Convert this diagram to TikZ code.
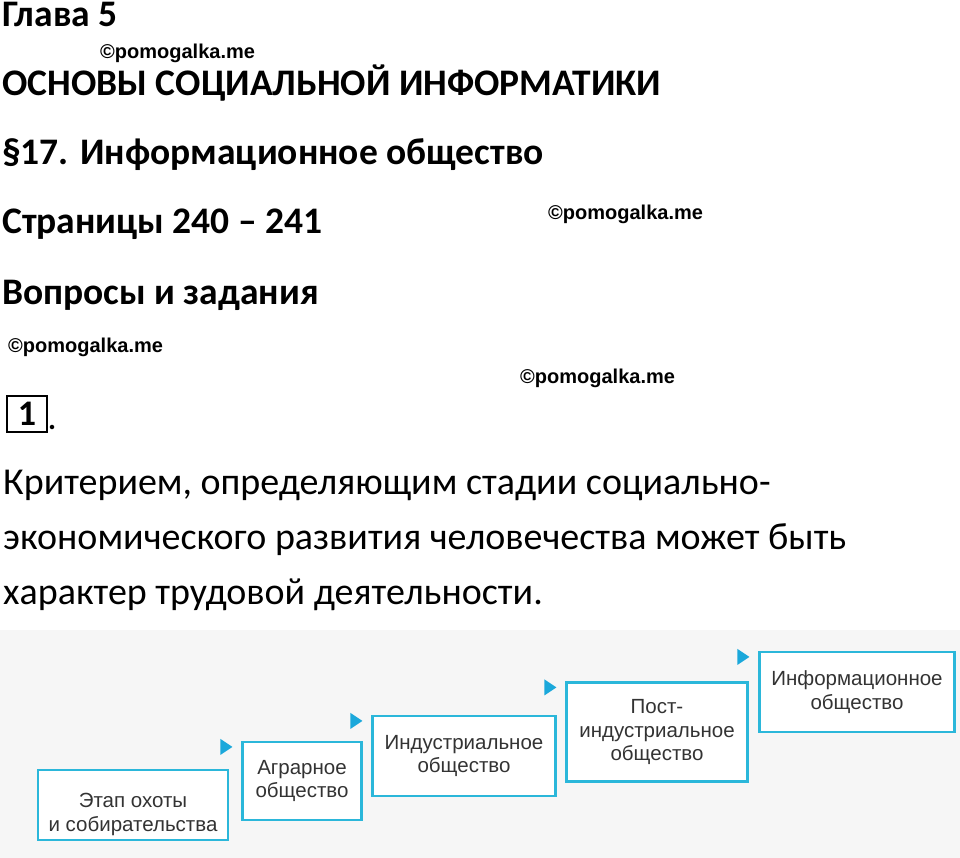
\documentclass[tikz,border=0pt]{standalone}
\usepackage{fontspec}
\setmainfont{Carlito}
\newfontfamily\boxfont{Liberation Sans}
\definecolor{frame}{HTML}{2BB7DA}
\definecolor{tri}{HTML}{1BA8DB}
\definecolor{bgpanel}{HTML}{F6F6F6}
\tikzset{
  stage/.style={draw=frame,line width=2.2pt,fill=white,align=center,
    font=\boxfont\fontsize{20.5}{23.5}\selectfont,text=black!80,inner sep=0pt},
  head/.style={anchor=base west,inner sep=0pt,font=\bfseries\fontsize{37.5}{40}\selectfont},
  stamp/.style={anchor=base west,inner sep=0pt,font=\boxfont\bfseries\fontsize{20}{22}\selectfont},
  body/.style={anchor=base west,inner sep=0pt,font=\fontsize{38}{42}\selectfont},
  pointer/.style={fill=tri,draw=none}
}
\begin{document}
\begin{tikzpicture}[x=1pt,y=-1pt]
\useasboundingbox (0,0) rectangle (960,858);
\fill[white] (0,0) rectangle (960,858);
\fill[bgpanel] (0,630) rectangle (960,858);
% headings
\node[head] (chap) at (2,27) {Глава 5};
\node[head] (part) at (2,96) {ОСНОВЫ СОЦИАЛЬНОЙ ИНФОРМАТИКИ};
\node[head] (sect) at (2,165) {§17. Информационное общество};
\node[head] (page) at (2,234) {Страницы 240 – 241};
\node[head] (task) at (2,305) {Вопросы и задания};
% watermarks
\node[stamp] (wm1) at (100,59) {©pomogalka.me};
\node[stamp] (wm2) at (548,220) {©pomogalka.me};
\node[stamp] (wm3) at (8,352) {©pomogalka.me};
\node[stamp] (wm4) at (520,383) {©pomogalka.me};
% number
\node[draw,line width=1.8pt,inner sep=0pt,anchor=north west,minimum width=40pt,minimum height=36pt,
  font=\rmfamily\bfseries\fontsize{36}{38}\selectfont] (num) at (6,395) {1};
\node[anchor=south west,inner sep=0pt,font=\rmfamily\bfseries\fontsize{30}{32}\selectfont]
  (dot) at ([yshift=3pt]num.south east) {.};
% text
\node[body] (l1) at (3,494) {Критерием, определяющим стадии социально-};
\node[body] (l2) at (3,549) {экономического развития человечества может быть};
\node[body] (l3) at (3,604) {характер трудовой деятельности.};
% stages
\node[stage,minimum width=190pt,minimum height=70pt] (hunt) at (133,805) {\\[10pt]Этап охоты\\и собирательства};
\node[stage,minimum width=119pt,minimum height=78pt] (agro) at (302,781) {Аграрное\\общество};
\node[stage,minimum width=183pt,minimum height=80pt] (indu) at (464,756) {Индустриальное\\общество};
\node[stage,minimum width=181pt,minimum height=99pt] (post) at (657,732) {Пост-\\индустриальное\\общество};
\node[stage,minimum width=195pt,minimum height=80pt] (info) at (857,692) {Информационное\\общество};
% pointers
\foreach \b in {agro,indu,post,info}{
  \fill[pointer] ([xshift=-21pt,yshift=2pt]\b.north west) -- ++(0,16) -- ++(12,-8) -- cycle;
}
\end{tikzpicture}
\end{document}
